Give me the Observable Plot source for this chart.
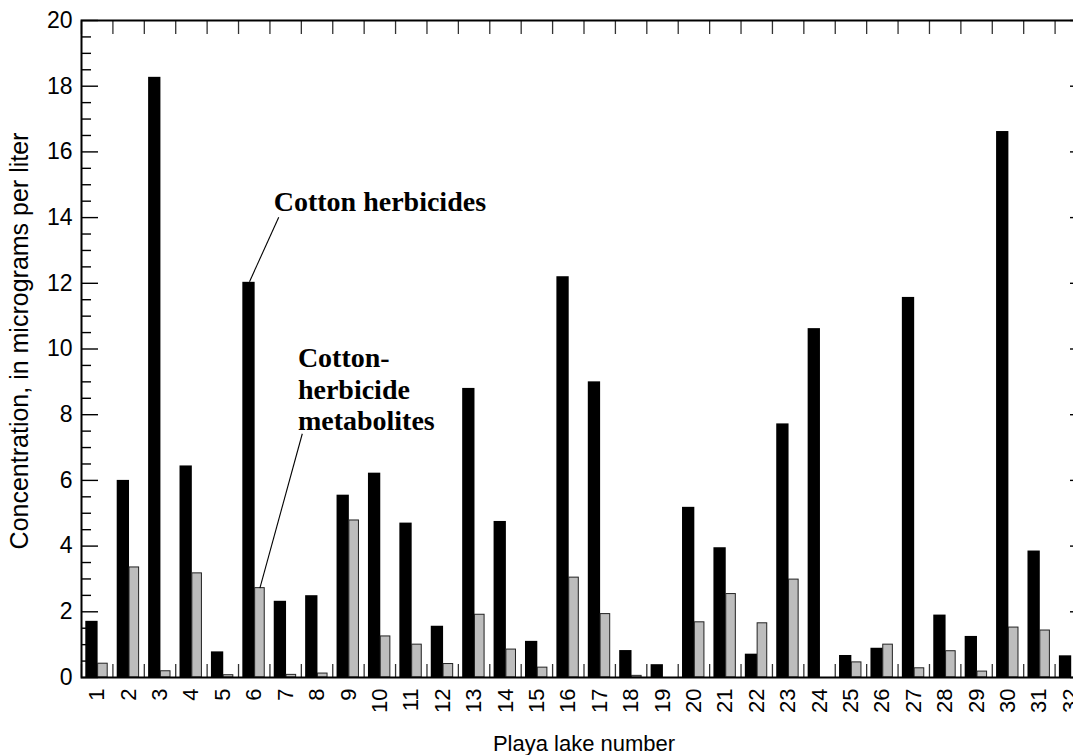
<!DOCTYPE html>
<html>
<head>
<meta charset="utf-8">
<script src="https://cdn.jsdelivr.net/npm/d3@7"></script>
<script src="https://cdn.jsdelivr.net/npm/@observablehq/plot@0.6"></script>
<style>
  html, body { margin: 0; padding: 0; background: #fff; overflow: hidden; }
  #chart svg { max-width: none !important; overflow: hidden; display: block; }
</style>
</head>
<body>
<div id="chart"></div>
<script>
// ---- data ----
const lakes = [1,2,3,4,5,6,7,8,9,10,11,12,13,14,15,16,17,18,19,20,21,22,23,24,25,26,27,28,29,30,31,32];
const herbicides = [1.71, 6.0, 18.27, 6.44, 0.78, 12.03, 2.32, 2.49, 5.55, 6.22, 4.7, 1.56, 8.8, 4.75, 1.1, 12.2,
                    9.0, 0.82, 0.39, 5.18, 3.95, 0.71, 7.72, 10.62, 0.67, 0.89, 11.57, 1.9, 1.25, 16.62, 3.85, 0.66];
const metabolites = [0.42, 3.35, 0.19, 3.17, 0.07, 2.72, 0.08, 0.12, 4.78, 1.25, 1.0, 0.41, 1.91, 0.85, 0.3, 3.04,
                     1.93, 0.05, 0, 1.68, 2.54, 1.65, 2.98, 0, 0.46, 1.0, 0.28, 0.8, 0.18, 1.52, 1.43, null];
const yMajorTicks = [0, 2, 4, 6, 8, 10, 12, 14, 16, 18, 20];
const yMinorTicks = [0.5,1,1.5,2.5,3,3.5,4.5,5,5.5,6.5,7,7.5,8.5,9,9.5,10.5,11,11.5,12.5,13,13.5,14.5,15,15.5,16.5,17,17.5,18.5,19,19.5];
const xTitle = "Playa lake number";
const yTitle = "Concentration, in micrograms per liter";
const labelHerb = "Cotton herbicides";
const labelMeta = "Cotton-\nherbicide\nmetabolites";
// annotation anchors (data coordinates: lake number, concentration)
const annotations = [
  {text: labelHerb, x: 6.62, y: 14.88},
  {text: labelMeta, x: 7.39, y: 10.12}
];
const leaders = [
  {x1: 6.78, y1: 14.01, x2: 5.85, y2: 12.05},
  {x1: 7.53, y1: 7.42, x2: 6.18, y2: 2.72}
];

// ---- tables built from the arrays ----
const herbData = lakes.map((lake, i) => ({lake, value: herbicides[i]}));
const metaData = lakes.map((lake, i) => ({lake, value: metabolites[i]})).filter(d => d.value != null && d.value > 0);
const boundaries = lakes.map(d => d - 0.5).concat([lakes[lakes.length - 1] + 0.5]);

const sans = "'Liberation Sans', Arial, Helvetica, sans-serif";
const serif = "'Liberation Serif', 'Times New Roman', serif";

const chart = Plot.plot({
  width: 1090,
  height: 755,
  marginLeft: 81,
  marginRight: 4,
  marginTop: 20,
  marginBottom: 78,
  style: {fontFamily: sans, background: "white", color: "black", maxWidth: "none", overflow: "hidden"},
  x: {type: "linear", domain: [0.5, 32.5], axis: null},
  y: {domain: [0, 20], axis: null},
  marks: [
    Plot.rectY(herbData, {x1: d => d.lake - 0.5, x2: d => d.lake + 0.5, y1: 0, y2: "value",
      insetLeft: 4.3, insetRight: 14.8, fill: "black"}),
    Plot.rectY(metaData, {x1: d => d.lake - 0.5, x2: d => d.lake + 0.5, y1: 0, y2: "value",
      insetLeft: 16.6, insetRight: 5.2, fill: "#bdbdbd", stroke: "#222", strokeWidth: 1}),
    // category boundary ticks, top and bottom
    Plot.axisX({anchor: "top", ticks: boundaries, tickSize: -13, text: null, label: null, stroke: "#333", strokeWidth: 1.3}),
    Plot.axisX({anchor: "bottom", ticks: boundaries, tickSize: -13, text: null, label: null, stroke: "#333", strokeWidth: 1.3}),
    // lake number labels
    Plot.axisX({anchor: "bottom", ticks: lakes, tickSize: 0, tickPadding: 11, tickRotate: -90,
      tickFormat: d => String(d), fontSize: 22, label: null}),
    // y ticks (inward) left and right
    Plot.axisY({anchor: "left", ticks: yMajorTicks, tickSize: -17, text: null, label: null, strokeWidth: 1.4}),
    Plot.axisY({anchor: "left", ticks: yMinorTicks, tickSize: -10, text: null, label: null, strokeWidth: 1.4}),
    Plot.axisY({anchor: "right", ticks: yMajorTicks, tickSize: -17, text: null, label: null, strokeWidth: 1.4}),
    Plot.axisY({anchor: "right", ticks: yMinorTicks, tickSize: -10, text: null, label: null, strokeWidth: 1.4}),
    Plot.axisY({anchor: "left", ticks: yMajorTicks, tickSize: 0, tickPadding: 9, fontSize: 23, label: null}),
    Plot.frame({stroke: "black", strokeWidth: 2}),
    // annotations
    Plot.link(leaders, {x1: "x1", y1: "y1", x2: "x2", y2: "y2", stroke: "black", strokeWidth: 1.1}),
    Plot.text(annotations, {x: "x", y: "y", text: "text", textAnchor: "start", lineAnchor: "top",
      fontFamily: serif, fontWeight: "bold", fontSize: 28, lineHeight: 1.12, fill: "black"}),
    // axis titles
    Plot.text([xTitle], {frameAnchor: "bottom", dx: 0, dy: 73, lineAnchor: "bottom", fontSize: 22, fill: "black"}),
    Plot.text([yTitle], {frameAnchor: "left", textAnchor: "middle", rotate: -90, dx: -71, dy: -8,
      lineAnchor: "top", fontSize: 25, fill: "black"})
  ]
});
document.getElementById("chart").appendChild(chart);
</script>
</body>
</html>
